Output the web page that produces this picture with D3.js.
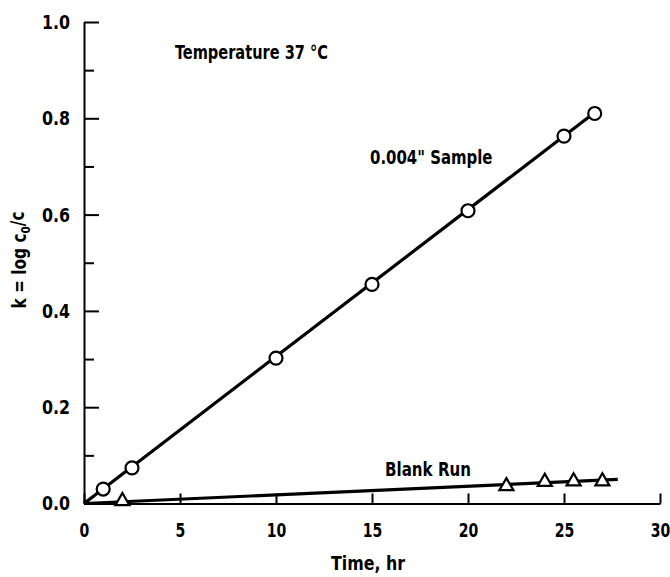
<!DOCTYPE html>
<html lang="en">
<head>
    <meta charset="UTF-8">
    <title>k vs time</title>
    <script src="https://d3js.org/d3.v7.min.js"></script>
    <style>
        body { margin: 0; background: #fff; }
        svg text {
            font-family: "Liberation Sans Narrow", "DejaVu Sans Condensed", sans-serif;
            font-weight: bold;
            fill: #000;
        }
        .axis path, .axis line {
            stroke: #000;
            stroke-width: 2px;
        }
    </style>
</head>
<body>
    <svg width="670" height="577"></svg>
    <script>
        // values
        const sampleTime = [1.0, 2.5, 10, 15, 20, 25, 26.6];
        const sampleK = [0.030, 0.074, 0.302, 0.455, 0.608, 0.763, 0.810];
        const blankTime = [2.0, 22, 24, 25.5, 27];
        const blankK = [0.005, 0.036, 0.045, 0.046, 0.046];

        // straight lines drawn through each set
        const sampleFitTime = [0, 26.6];
        const sampleFitK = [0, 0.812];
        const blankFitTime = [0, 27.8];
        const blankFitK = [0, 0.050];

        const xTickValues = [0, 5, 10, 15, 20, 25, 30];
        const yMajorTicks = [0, 0.2, 0.4, 0.6, 0.8, 1.0];
        const yMinorTicks = [0.1, 0.3, 0.5, 0.7, 0.9];

        const svg = d3.select("svg");

        const x = d3.scaleLinear().domain([0, 30]).range([84, 660]);
        const y = d3.scaleLinear().domain([0, 1]).range([503.5, 22]);

        // y axis, ticks point inward
        const yAxis = svg.append("g")
            .attr("class", "axis")
            .attr("transform", `translate(${x(0)},0)`)
            .call(d3.axisLeft(y)
                .tickValues(yMajorTicks)
                .tickSizeInner(-15)
                .tickSizeOuter(0)
                .tickPadding(14)
                .tickFormat(d3.format(".1f")));
        // the lettering is narrow, so squeeze it sideways
        yAxis.selectAll("text")
            .style("font-size", "20px")
            .attr("x", -14 / 0.88)
            .attr("transform", "scale(0.88,1)");

        svg.append("g")
            .attr("class", "axis")
            .attr("transform", `translate(${x(0)},0)`)
            .call(d3.axisLeft(y)
                .tickValues(yMinorTicks)
                .tickSizeInner(-10)
                .tickSizeOuter(0)
                .tickFormat(""))
            .select(".domain").remove();

        // x axis
        const xAxis = svg.append("g")
            .attr("class", "axis")
            .attr("transform", `translate(0,${y(0)})`)
            .call(d3.axisBottom(x)
                .tickValues(xTickValues)
                .tickSizeInner(-10)
                .tickSizeOuter(0)
                .tickPadding(19)
                .tickFormat(d3.format("d")));
        xAxis.selectAll("text")
            .style("font-size", "20px")
            .attr("transform", "scale(0.78,1)");

        const line = d3.line()
            .x(d => x(d[0]))
            .y(d => y(d[1]));

        svg.append("path")
            .datum(d3.zip(sampleFitTime, sampleFitK))
            .attr("d", line)
            .attr("fill", "none")
            .attr("stroke", "#000")
            .attr("stroke-width", 3.2);

        svg.append("path")
            .datum(d3.zip(blankFitTime, blankFitK))
            .attr("d", line)
            .attr("fill", "none")
            .attr("stroke", "#000")
            .attr("stroke-width", 3.2);

        svg.append("g")
            .selectAll("circle")
            .data(d3.zip(sampleTime, sampleK))
            .enter().append("circle")
            .attr("cx", d => x(d[0]))
            .attr("cy", d => y(d[1]))
            .attr("r", 6.5)
            .attr("fill", "#fff")
            .attr("stroke", "#000")
            .attr("stroke-width", 2.2);

        const tri = d3.symbol().type(d3.symbolTriangle).size(85);
        svg.append("g")
            .selectAll("path")
            .data(d3.zip(blankTime, blankK))
            .enter().append("path")
            .attr("d", tri)
            .attr("transform", d => `translate(${x(d[0])},${y(d[1])})`)
            .attr("fill", "#fff")
            .attr("stroke", "#000")
            .attr("stroke-width", 2.2);

        // labels
        function label(px, py, sx, size, str, anchor) {
            return svg.append("text")
                .attr("transform", `translate(${px},${py}) scale(${sx},1)`)
                .attr("dy", "0.35em")
                .attr("text-anchor", anchor || "start")
                .style("font-size", size + "px")
                .text(str);
        }

        label(175, 52, 0.81, 20, "Temperature 37 °C");
        label(370, 157, 0.83, 20, "0.004\" Sample");
        label(385, 469, 0.84, 20, "Blank Run");
        label(368, 563, 0.88, 20, "Time,  hr", "middle");

        const ylab = svg.append("text")
            .attr("transform", "translate(19,260) rotate(-90) scale(0.9,1)")
            .attr("dy", "0.35em")
            .attr("text-anchor", "middle")
            .style("font-size", "19px");
        ylab.append("tspan").text("k  =  log c");
        ylab.append("tspan").attr("dy", "0.3em").style("font-size", "13px").text("0");
        ylab.append("tspan").attr("dy", "-0.3em").text("/c");
    </script>
</body>
</html>
